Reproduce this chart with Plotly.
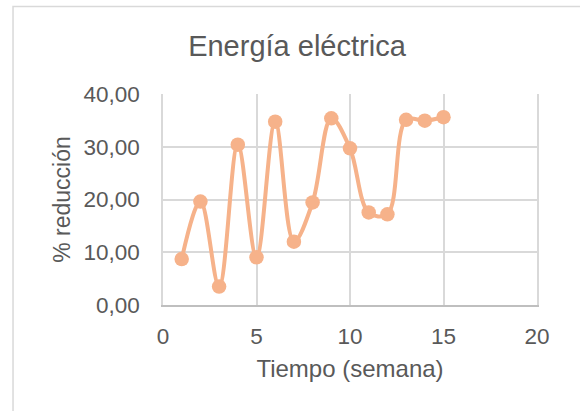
import plotly.graph_objects as go

# weekly reduction of electric energy use
semanas = list(range(1, 16))
reduccion = [8.70, 19.60, 3.50, 30.40, 9.05, 34.75, 12.00, 19.45,
             35.40, 29.70, 17.55, 17.20, 35.10, 34.95, 35.60]

x_ticks = [0, 5, 10, 15, 20]
y_ticks = [0, 10, 20, 30, 40]
y_labels = ["0,00", "10,00", "20,00", "30,00", "40,00"]

color = "#F6B28A"
gris = "#595959"
fuente = "Liberation Sans, Arial, sans-serif"

fig = go.Figure()
fig.add_trace(go.Scatter(
    x=semanas,
    y=reduccion,
    mode="lines+markers",
    line=dict(color=color, width=4, shape="spline", smoothing=1),
    marker=dict(color=color, size=14.5),
    cliponaxis=False,
    showlegend=False,
))

fig.update_layout(
    width=580,
    height=411,
    margin=dict(l=163, r=43, t=94, b=106),
    paper_bgcolor="white",
    plot_bgcolor="white",
    font=dict(family=fuente, color=gris, size=22.5),
    title=dict(text="Energía eléctrica", x=0.512, xanchor="center",
               y=0.888, yanchor="middle",
               font=dict(family=fuente, size=29, color=gris)),
    shapes=[dict(type="rect", xref="paper", yref="paper",
                 x0=-0.401, x1=1.5, y0=-1.0, y1=1.415,
                 line=dict(color="#D9D9D9", width=1.5), layer="below")],
)

fig.update_xaxes(
    range=[0, 20],
    tickvals=x_ticks,
    tickfont=dict(family=fuente, color=gris, size=22.5),
    showgrid=True, gridcolor="#D9D9D9", gridwidth=1.5,
    zeroline=False,
    showline=True, linecolor="#BFBFBF", linewidth=1.5,
    ticks="", ticklabelstandoff=10,
    title=dict(text="Tiempo (semana)", standoff=12,
               font=dict(family=fuente, color=gris, size=24)),
)
fig.update_yaxes(
    range=[0, 40],
    tickvals=y_ticks, ticktext=y_labels,
    tickfont=dict(family=fuente, color=gris, size=22.5),
    showgrid=True, gridcolor="#D9D9D9", gridwidth=1.5,
    zeroline=False,
    showline=True, linecolor="#D9D9D9", linewidth=1.5, mirror=True,
    ticks="", ticklabelstandoff=17,
    title=dict(text="% reducción", standoff=6,
               font=dict(family=fuente, color=gris, size=23)),
)

# the page's default body margin would push the chart 8 px down and right
fig.write_html("out.html", config={"displayModeBar": False},
               post_script="document.body.style.margin='0';")
